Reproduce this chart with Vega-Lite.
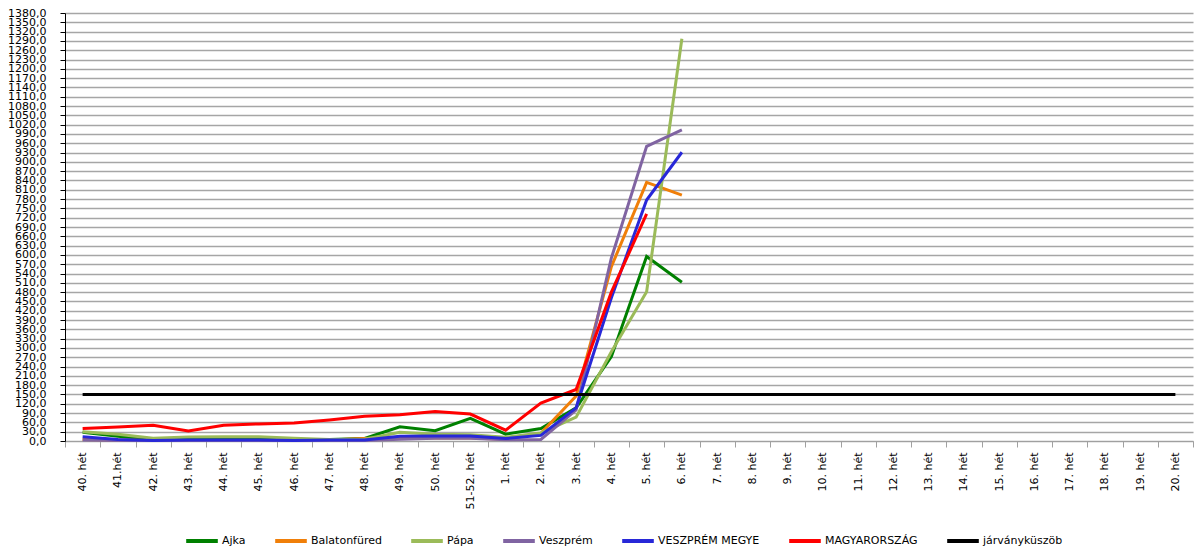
{
  "$schema": "https://vega.github.io/schema/vega-lite/v6.json",
  "width": 1128,
  "height": 428,
  "autosize": {"type": "none"},
  "padding": {"left": 65, "top": 13, "right": 2, "bottom": 105},
  "background": "white",
  "data": {"values": [
    {"s": "Ajka", "w": "40. hét", "v": 28}, {"s": "Ajka", "w": "41.hét", "v": 15}, {"s": "Ajka", "w": "42. hét", "v": 5}, {"s": "Ajka", "w": "43. hét", "v": 8}, {"s": "Ajka", "w": "44. hét", "v": 9}, {"s": "Ajka", "w": "45. hét", "v": 9}, {"s": "Ajka", "w": "46. hét", "v": 5}, {"s": "Ajka", "w": "47. hét", "v": 5}, {"s": "Ajka", "w": "48. hét", "v": 8}, {"s": "Ajka", "w": "49. hét", "v": 46}, {"s": "Ajka", "w": "50. hét", "v": 33}, {"s": "Ajka", "w": "51-52. hét", "v": 73}, {"s": "Ajka", "w": "1. hét", "v": 22}, {"s": "Ajka", "w": "2. hét", "v": 40}, {"s": "Ajka", "w": "3. hét", "v": 107}, {"s": "Ajka", "w": "4. hét", "v": 272}, {"s": "Ajka", "w": "5. hét", "v": 595}, {"s": "Ajka", "w": "6. hét", "v": 512},
    {"s": "Balatonfüred", "w": "40. hét", "v": 5}, {"s": "Balatonfüred", "w": "41.hét", "v": 3}, {"s": "Balatonfüred", "w": "42. hét", "v": 2}, {"s": "Balatonfüred", "w": "43. hét", "v": 2}, {"s": "Balatonfüred", "w": "44. hét", "v": 2}, {"s": "Balatonfüred", "w": "45. hét", "v": 2}, {"s": "Balatonfüred", "w": "46. hét", "v": 2}, {"s": "Balatonfüred", "w": "47. hét", "v": 3}, {"s": "Balatonfüred", "w": "48. hét", "v": 8}, {"s": "Balatonfüred", "w": "49. hét", "v": 12}, {"s": "Balatonfüred", "w": "50. hét", "v": 10}, {"s": "Balatonfüred", "w": "51-52. hét", "v": 10}, {"s": "Balatonfüred", "w": "1. hét", "v": 6}, {"s": "Balatonfüred", "w": "2. hét", "v": 25}, {"s": "Balatonfüred", "w": "3. hét", "v": 145}, {"s": "Balatonfüred", "w": "4. hét", "v": 562}, {"s": "Balatonfüred", "w": "5. hét", "v": 834}, {"s": "Balatonfüred", "w": "6. hét", "v": 793},
    {"s": "Pápa", "w": "40. hét", "v": 30}, {"s": "Pápa", "w": "41.hét", "v": 22}, {"s": "Pápa", "w": "42. hét", "v": 9}, {"s": "Pápa", "w": "43. hét", "v": 13}, {"s": "Pápa", "w": "44. hét", "v": 14}, {"s": "Pápa", "w": "45. hét", "v": 14}, {"s": "Pápa", "w": "46. hét", "v": 9}, {"s": "Pápa", "w": "47. hét", "v": 5}, {"s": "Pápa", "w": "48. hét", "v": 6}, {"s": "Pápa", "w": "49. hét", "v": 28}, {"s": "Pápa", "w": "50. hét", "v": 22}, {"s": "Pápa", "w": "51-52. hét", "v": 20}, {"s": "Pápa", "w": "1. hét", "v": 12}, {"s": "Pápa", "w": "2. hét", "v": 26}, {"s": "Pápa", "w": "3. hét", "v": 77}, {"s": "Pápa", "w": "4. hét", "v": 288}, {"s": "Pápa", "w": "5. hét", "v": 481}, {"s": "Pápa", "w": "6. hét", "v": 1297},
    {"s": "Veszprém", "w": "40. hét", "v": 3}, {"s": "Veszprém", "w": "41.hét", "v": 2}, {"s": "Veszprém", "w": "42. hét", "v": 2}, {"s": "Veszprém", "w": "43. hét", "v": 2}, {"s": "Veszprém", "w": "44. hét", "v": 2}, {"s": "Veszprém", "w": "45. hét", "v": 2}, {"s": "Veszprém", "w": "46. hét", "v": 2}, {"s": "Veszprém", "w": "47. hét", "v": 2}, {"s": "Veszprém", "w": "48. hét", "v": 2}, {"s": "Veszprém", "w": "49. hét", "v": 6}, {"s": "Veszprém", "w": "50. hét", "v": 9}, {"s": "Veszprém", "w": "51-52. hét", "v": 9}, {"s": "Veszprém", "w": "1. hét", "v": 4}, {"s": "Veszprém", "w": "2. hét", "v": 5}, {"s": "Veszprém", "w": "3. hét", "v": 100}, {"s": "Veszprém", "w": "4. hét", "v": 590}, {"s": "Veszprém", "w": "5. hét", "v": 950}, {"s": "Veszprém", "w": "6. hét", "v": 1003},
    {"s": "VESZPRÉM MEGYE", "w": "40. hét", "v": 14}, {"s": "VESZPRÉM MEGYE", "w": "41.hét", "v": 5}, {"s": "VESZPRÉM MEGYE", "w": "42. hét", "v": 2}, {"s": "VESZPRÉM MEGYE", "w": "43. hét", "v": 3}, {"s": "VESZPRÉM MEGYE", "w": "44. hét", "v": 3}, {"s": "VESZPRÉM MEGYE", "w": "45. hét", "v": 3}, {"s": "VESZPRÉM MEGYE", "w": "46. hét", "v": 2}, {"s": "VESZPRÉM MEGYE", "w": "47. hét", "v": 3}, {"s": "VESZPRÉM MEGYE", "w": "48. hét", "v": 3}, {"s": "VESZPRÉM MEGYE", "w": "49. hét", "v": 15}, {"s": "VESZPRÉM MEGYE", "w": "50. hét", "v": 16}, {"s": "VESZPRÉM MEGYE", "w": "51-52. hét", "v": 16}, {"s": "VESZPRÉM MEGYE", "w": "1. hét", "v": 8}, {"s": "VESZPRÉM MEGYE", "w": "2. hét", "v": 18}, {"s": "VESZPRÉM MEGYE", "w": "3. hét", "v": 107}, {"s": "VESZPRÉM MEGYE", "w": "4. hét", "v": 462}, {"s": "VESZPRÉM MEGYE", "w": "5. hét", "v": 777}, {"s": "VESZPRÉM MEGYE", "w": "6. hét", "v": 931},
    {"s": "MAGYARORSZÁG", "w": "40. hét", "v": 40}, {"s": "MAGYARORSZÁG", "w": "41.hét", "v": 45}, {"s": "MAGYARORSZÁG", "w": "42. hét", "v": 51}, {"s": "MAGYARORSZÁG", "w": "43. hét", "v": 32}, {"s": "MAGYARORSZÁG", "w": "44. hét", "v": 51}, {"s": "MAGYARORSZÁG", "w": "45. hét", "v": 55}, {"s": "MAGYARORSZÁG", "w": "46. hét", "v": 58}, {"s": "MAGYARORSZÁG", "w": "47. hét", "v": 68}, {"s": "MAGYARORSZÁG", "w": "48. hét", "v": 80}, {"s": "MAGYARORSZÁG", "w": "49. hét", "v": 85}, {"s": "MAGYARORSZÁG", "w": "50. hét", "v": 95}, {"s": "MAGYARORSZÁG", "w": "51-52. hét", "v": 87}, {"s": "MAGYARORSZÁG", "w": "1. hét", "v": 35}, {"s": "MAGYARORSZÁG", "w": "2. hét", "v": 122}, {"s": "MAGYARORSZÁG", "w": "3. hét", "v": 166}, {"s": "MAGYARORSZÁG", "w": "4. hét", "v": 480}, {"s": "MAGYARORSZÁG", "w": "5. hét", "v": 732},
    {"s": "járványküszöb", "w": "40. hét", "v": 150}, {"s": "járványküszöb", "w": "41.hét", "v": 150}, {"s": "járványküszöb", "w": "42. hét", "v": 150}, {"s": "járványküszöb", "w": "43. hét", "v": 150}, {"s": "járványküszöb", "w": "44. hét", "v": 150}, {"s": "járványküszöb", "w": "45. hét", "v": 150}, {"s": "járványküszöb", "w": "46. hét", "v": 150}, {"s": "járványküszöb", "w": "47. hét", "v": 150}, {"s": "járványküszöb", "w": "48. hét", "v": 150}, {"s": "járványküszöb", "w": "49. hét", "v": 150}, {"s": "járványküszöb", "w": "50. hét", "v": 150}, {"s": "járványküszöb", "w": "51-52. hét", "v": 150}, {"s": "járványküszöb", "w": "1. hét", "v": 150}, {"s": "járványküszöb", "w": "2. hét", "v": 150}, {"s": "járványküszöb", "w": "3. hét", "v": 150}, {"s": "járványküszöb", "w": "4. hét", "v": 150}, {"s": "járványküszöb", "w": "5. hét", "v": 150}, {"s": "járványküszöb", "w": "6. hét", "v": 150}, {"s": "járványküszöb", "w": "7. hét", "v": 150}, {"s": "járványküszöb", "w": "8. hét", "v": 150}, {"s": "járványküszöb", "w": "9. hét", "v": 150}, {"s": "járványküszöb", "w": "10. hét", "v": 150}, {"s": "járványküszöb", "w": "11. hét", "v": 150}, {"s": "járványküszöb", "w": "12. hét", "v": 150}, {"s": "járványküszöb", "w": "13. hét", "v": 150}, {"s": "járványküszöb", "w": "14. hét", "v": 150}, {"s": "járványküszöb", "w": "15. hét", "v": 150}, {"s": "járványküszöb", "w": "16. hét", "v": 150}, {"s": "járványküszöb", "w": "17. hét", "v": 150}, {"s": "járványküszöb", "w": "18. hét", "v": 150}, {"s": "járványküszöb", "w": "19. hét", "v": 150}, {"s": "járványküszöb", "w": "20. hét", "v": 150}
  ]},
  "mark": {"type": "line", "strokeWidth": 3},
  "encoding": {
    "x": {
      "field": "w", "type": "ordinal",
      "sort": ["40. hét", "41.hét", "42. hét", "43. hét", "44. hét", "45. hét", "46. hét", "47. hét", "48. hét", "49. hét", "50. hét", "51-52. hét", "1. hét", "2. hét", "3. hét", "4. hét", "5. hét", "6. hét", "7. hét", "8. hét", "9. hét", "10. hét", "11. hét", "12. hét", "13. hét", "14. hét", "15. hét", "16. hét", "17. hét", "18. hét", "19. hét", "20. hét"],
      "scale": {"type": "band", "paddingInner": 0, "paddingOuter": 0},
      "axis": {
        "title": null, "labelAngle": -90, "labelAlign": "right", "labelBaseline": "middle",
        "tickBand": "extent", "grid": false, "domainColor": "#A0A0A0", "tickColor": "#A0A0A0",
        "tickSize": 6, "labelFont": "DejaVu Sans", "labelFontSize": 11, "labelColor": "#000000",
        "labelPadding": 5, "labelOverlap": false
      }
    },
    "y": {
      "field": "v", "type": "quantitative",
      "scale": {"domain": [0, 1380], "nice": false},
      "axis": {
        "title": null,
        "values": [0, 30, 60, 90, 120, 150, 180, 210, 240, 270, 300, 330, 360, 390, 420, 450, 480, 510, 540, 570, 600, 630, 660, 690, 720, 750, 780, 810, 840, 870, 900, 930, 960, 990, 1020, 1050, 1080, 1110, 1140, 1170, 1200, 1230, 1260, 1290, 1320, 1350, 1380],
        "labelExpr": "replace(format(datum.value, '.1f'), '.', ',')",
        "labelOverlap": false, "labelFont": "DejaVu Sans", "labelFontSize": 11,
        "labelColor": "#000000", "labelPadding": 14, "tickSize": 5, "tickColor": "#000000",
        "domainColor": "#000000", "gridColor": "#A6A6A6", "gridWidth": 1.3
      }
    },
    "color": {
      "field": "s", "type": "nominal",
      "scale": {
        "domain": ["Ajka", "Balatonfüred", "Pápa", "Veszprém", "VESZPRÉM MEGYE", "MAGYARORSZÁG", "járványküszöb"],
        "range": ["#008000", "#F07F09", "#9BBB59", "#8064A2", "#2828D8", "#FF0000", "#000000"]
      },
      "legend": {
        "title": null, "orient": "none", "legendX": 119, "legendY": 510, "direction": "horizontal",
        "padding": 0,
        "symbolType": "stroke", "symbolSize": 1000, "symbolStrokeWidth": 4,
        "labelFont": "DejaVu Sans", "labelFontSize": 11, "labelColor": "#000000",
        "labelOffset": 2, "columnPadding": 21
      }
    }
  },
  "config": {"view": {"stroke": null}}
}
